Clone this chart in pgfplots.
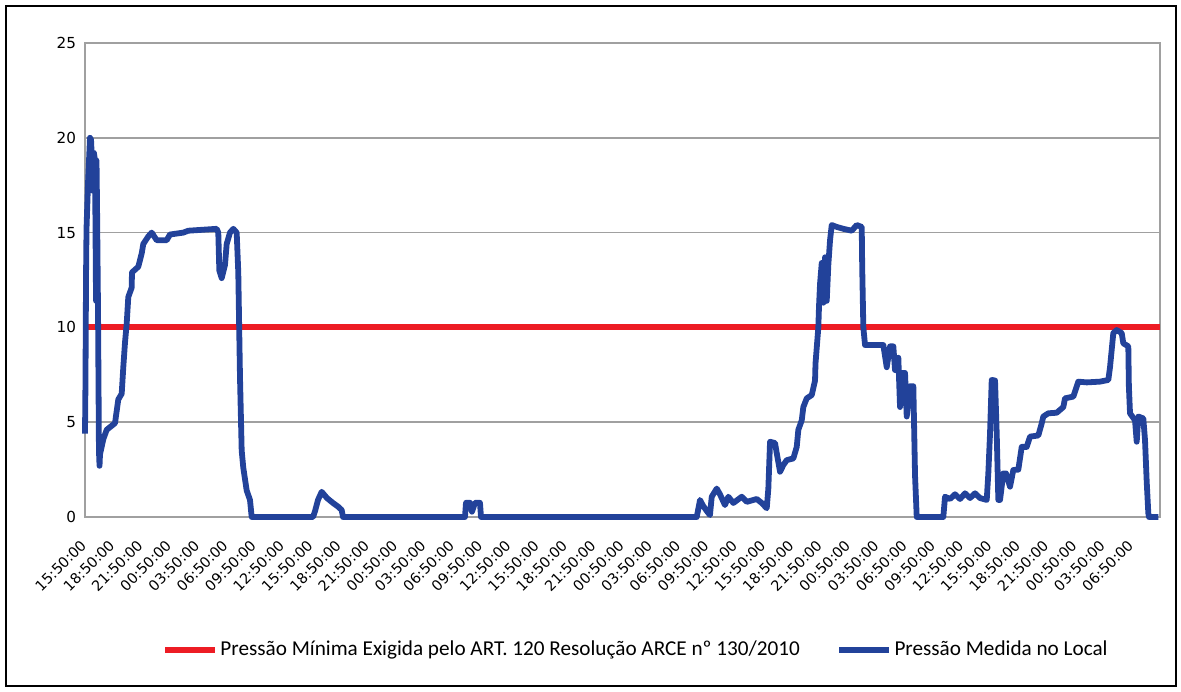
\documentclass[border=0pt]{standalone}
\usepackage{fontspec}
\setmainfont{DejaVu Sans}
\newfontfamily\legfont{Carlito}
\usepackage{pgfplots}
\pgfplotsset{compat=1.18}
\definecolor{refred}{RGB}{237,28,36}
\definecolor{refblue}{RGB}{34,66,154}
\definecolor{gridgray}{RGB}{160,160,160}
\begin{document}
\begin{tikzpicture}
\path[use as bounding box] (0pt,0pt) rectangle (590.5pt,-345.5pt);
\draw[line width=1.3pt] (3pt,-3pt) rectangle (588pt,-343pt);
\begin{axis}[
  at={(42.5pt,-258.5pt)}, anchor=south west,
  scale only axis, width=537.5pt, height=237pt,
  xmin=0, xmax=113.96, ymin=0, ymax=25,
  clip=false,
  ytick={0,5,10,15,20,25},
  xtick={0,3,...,111},
  xticklabels={15:50:00,18:50:00,21:50:00,00:50:00,03:50:00,06:50:00,09:50:00,12:50:00,
               15:50:00,18:50:00,21:50:00,00:50:00,03:50:00,06:50:00,09:50:00,12:50:00,
               15:50:00,18:50:00,21:50:00,00:50:00,03:50:00,06:50:00,09:50:00,12:50:00,
               15:50:00,18:50:00,21:50:00,00:50:00,03:50:00,06:50:00,09:50:00,12:50:00,
               15:50:00,18:50:00,21:50:00,00:50:00,03:50:00,06:50:00},
  ymajorgrids,
  grid style={gridgray, line width=0.75pt},
  axis line style={gridgray, line width=0.75pt},
  tick style={draw=none},
  major tick length=0pt,
  /pgf/number format/assume math mode=true,
  yticklabel style={font=\fontsize{7.6}{9}\selectfont, xshift=-1pt},
  xticklabel style={anchor=east, xshift=1.7pt, yshift=-10.4pt, rotate=45, font=\fontsize{7.2}{9}\selectfont},
  legend style={at={(0.5126,-0.2806)}, anchor=center, draw=none, fill=none,
    legend columns=2, font=\legfont\fontsize{10.6}{12}\selectfont,
    /tikz/every even column/.append style={column sep=17pt},
    nodes={inner sep=1.2pt}},
  legend image code/.code={\draw[#1] (0pt,0pt) -- (25pt,0pt);},
]
\addplot[refred, line width=3pt] coordinates {(0,10) (113.96,10)};
\addlegendentry{Pressão Mínima Exigida pelo ART. 120 Resolução ARCE nº 130/2010}
\addplot[refblue, line width=2.9pt, line join=round] coordinates {
(0.00,4.4) (0.05,7.1) (0.11,12.7) (0.16,15.2) (0.32,17.6) (0.53,20.0) (0.64,19.9)
(0.74,18.8) (0.85,17.2) (0.95,19.2) (1.06,18.8) (1.17,11.4) (1.22,18.8) (1.27,16.7)
(1.38,10.9) (1.48,3.5) (1.54,2.7) (1.59,3.3) (1.94,4.1) (2.30,4.6) (3.18,4.95)
(3.53,6.2) (3.89,6.5) (4.06,7.9) (4.24,9.2) (4.42,10.2) (4.59,11.6) (4.95,12.1)
(4.98,12.9) (5.65,13.2) (6.01,13.9) (6.18,14.4) (6.71,14.8) (7.07,15.0) (7.60,14.6)
(8.66,14.6) (9.01,14.9) (10.42,15.0) (10.95,15.1) (13.96,15.2) (14.13,15.0)
(14.24,13.0) (14.49,12.6) (14.84,13.3) (15.02,14.4) (15.37,15.0) (15.72,15.2)
(16.08,15.0) (16.25,12.9) (16.43,7.4) (16.61,3.5) (16.78,2.6) (17.14,1.4) (17.49,0.9)
(17.67,0.0) (24.17,0.0) (24.38,0.3) (24.70,0.9) (25.09,1.33) (25.65,1.0) (26.29,0.74)
(26.82,0.55) (27.21,0.37) (27.35,0.0) (40.28,0.0) (40.39,0.75) (40.81,0.75) (41.02,0.28)
(41.34,0.75) (41.87,0.75) (41.98,0.0) (64.85,0.0) (65.20,0.9) (65.51,0.6) (65.94,0.3)
(66.25,0.1) (66.44,1.07) (66.97,1.5) (67.31,1.2) (67.84,0.63) (68.20,1.07) (68.73,0.74)
(69.62,1.07) (70.15,0.8) (71.21,0.95) (71.74,0.74) (72.27,0.46) (72.44,1.5) (72.62,3.97)
(73.15,3.9) (73.33,3.37) (73.68,2.39) (74.03,2.74) (74.39,3.0) (75.09,3.09) (75.45,3.7)
(75.62,4.6) (75.98,5.1) (76.15,5.8) (76.51,6.26) (77.04,6.43) (77.39,7.2) (77.44,8.1)
(77.74,10.0) (77.81,11.1) (77.92,12.3) (78.10,13.4) (78.27,11.3) (78.45,13.7)
(78.63,11.4) (78.80,13.3) (78.98,14.6) (79.16,15.4) (79.69,15.3) (80.39,15.2)
(81.28,15.1) (81.81,15.4) (82.34,15.3) (82.39,13.2) (82.51,10.0) (82.69,9.07)
(84.63,9.07) (84.99,7.9) (85.34,9.0) (85.69,9.0) (85.87,7.75) (86.22,8.4) (86.40,5.8)
(86.58,7.6) (86.93,7.6) (87.11,5.3) (87.46,6.9) (87.81,6.9) (87.88,5.1) (87.99,2.2)
(88.17,0.0) (90.99,0.0) (91.17,1.07) (91.70,0.95) (92.23,1.2) (92.76,0.95) (93.29,1.25)
(93.82,1.0) (94.35,1.25) (94.88,1.0) (95.59,0.9) (95.76,2.3) (95.94,4.4) (96.12,7.23)
(96.47,7.2) (96.65,4.4) (96.82,0.9) (97.00,0.9) (97.35,2.3) (97.63,2.3) (98.06,1.6)
(98.41,2.48) (98.94,2.5) (99.30,3.7) (99.83,3.7) (100.18,4.24) (101.06,4.3) (101.42,4.94)
(101.59,5.3) (102.12,5.47) (103.01,5.5) (103.71,5.8) (103.89,6.26) (104.77,6.35)
(105.30,7.14) (106.19,7.1) (107.60,7.14) (108.48,7.23) (108.66,7.9) (109.01,9.7)
(109.37,9.86) (109.90,9.7) (110.07,9.16) (110.60,9.0) (110.66,6.9) (110.78,5.47)
(111.31,5.1) (111.49,3.97) (111.66,5.3) (112.19,5.2) (112.37,4.06) (112.55,1.86)
(112.72,0.2) (112.79,0.0) (113.78,0.0)
};
\addlegendentry{Pressão Medida no Local}
\end{axis}
\end{tikzpicture}
\end{document}
